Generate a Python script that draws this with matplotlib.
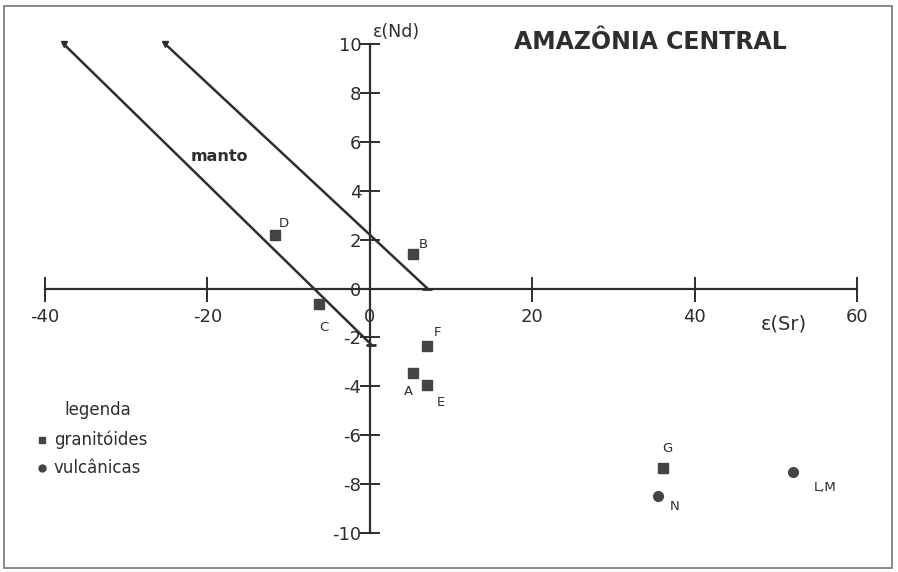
import matplotlib
matplotlib.use("Agg")
import matplotlib.pyplot as plt
from matplotlib.patches import Rectangle

# Data
gran_labels = ["D", "B", "C", "F", "A", "E", "G"]
gran_sr = [-11.7, 5.3, -6.2, 7.1, 5.3, 7.1, 36.1]
gran_nd = [2.2, 1.4, -0.65, -2.35, -3.45, -3.95, -7.35]
vulc_labels = ["N", "L,M"]
vulc_sr = [35.5, 52.1]
vulc_nd = [-8.5, -7.5]
mantle_left_sr = [-37.7, 0.2]
mantle_left_nd = [10.0, -2.3]
mantle_right_sr = [-25.2, 7.1]
mantle_right_nd = [10.0, 0.0]
xticks = [-40, -20, 0, 20, 40, 60]
yticks = [-10, -8, -6, -4, -2, 0, 2, 4, 6, 8, 10]

ink = "#2e2e2e"
fnt = "DejaVu Sans"
fig = plt.figure(figsize=(8.98, 5.72), dpi=100)
ax = fig.add_axes([45/898, 39/572, 812/898, 489/572])
ax.set_xlim(-40, 60)
ax.set_ylim(-10, 10)

for s in ["top", "right"]:
    ax.spines[s].set_visible(False)
ax.spines["left"].set_position(("data", 0))
ax.spines["bottom"].set_position(("data", 0))
for s in ["left", "bottom"]:
    ax.spines[s].set_color(ink)
    ax.spines[s].set_linewidth(1.6)

ax.set_xticks(xticks)
ax.set_xticklabels([str(v) for v in xticks])
ax.set_yticks(yticks)
ax.set_yticklabels([str(v) for v in yticks])
ax.tick_params(axis="x", direction="inout", length=18, width=1.4, color=ink,
               labelsize=13, labelcolor=ink, pad=5)
ax.tick_params(axis="y", direction="inout", length=14, width=1.4, color=ink,
               labelsize=13, labelcolor=ink, pad=-1)
for lab in ax.get_xticklabels() + ax.get_yticklabels():
    lab.set_fontfamily(fnt)

# mantle lines
for xs, ys in [(mantle_left_sr, mantle_left_nd), (mantle_right_sr, mantle_right_nd)]:
    ax.plot(xs, ys, color=ink, lw=1.8, clip_on=False, solid_capstyle="round")
    ax.plot(xs[0], ys[0], marker="v", ms=4, color=ink, clip_on=False)
    ax.plot(xs[1], ys[1], marker="_", ms=7, mew=2, color=ink, clip_on=False)

ax.text(-18.5, 5.4, "manto", fontsize=11.5, fontweight="bold", color=ink,
        ha="center", va="center", family=fnt)

# points
ax.plot(gran_sr, gran_nd, ls="none", marker="s", ms=6.5, color="#444444", clip_on=False)
ax.plot(vulc_sr, vulc_nd, ls="none", marker="o", ms=7, color="#444444", clip_on=False)

gran_off = [(1.1, 0.45), (1.3, 0.4), (0.5, -0.95), (1.2, 0.55), (-0.6, -0.75), (1.7, -0.7), (0.5, 0.8)]
for lab, x, y, (dx, dy) in zip(gran_labels, gran_sr, gran_nd, gran_off):
    ax.text(x + dx, y + dy, lab, fontsize=9.5, color=ink, ha="center", va="center",
            family=fnt)
vulc_off = [(2.0, -0.4), (4.0, -0.65)]
for lab, x, y, (dx, dy) in zip(vulc_labels, vulc_sr, vulc_nd, vulc_off):
    ax.text(x + dx, y + dy, lab, fontsize=9.5, color=ink, ha="center", va="center",
            family=fnt)

# axis labels and title
ax.text(0.4, 10.5, "ε(Nd)", fontsize=12.5, color=ink, ha="left", va="center",
        family=fnt)
ax.text(51.0, -1.45, "ε(Sr)", fontsize=14, color=ink, ha="center", va="center",
        family=fnt)
ax.text(34.6, 10.1, "AMAZÔNIA CENTRAL", fontsize=17, fontweight="bold", color=ink,
        ha="center", va="center", family=fnt)

# legend
fig.text(98/898, 1 - 410/572, "legenda", fontsize=12, color=ink, ha="center", va="center",
         family=fnt)
fig.lines.append(plt.Line2D([42/898], [1 - 440/572], marker="s", ms=5, color="#444444",
                            ls="none", transform=fig.transFigure))
fig.text(54/898, 1 - 440/572, "granitóides", fontsize=12, color=ink, ha="left", va="center",
         family=fnt)
fig.lines.append(plt.Line2D([42/898], [1 - 468/572], marker="o", ms=5, color="#444444",
                            ls="none", transform=fig.transFigure))
fig.text(54/898, 1 - 468/572, "vulcânicas", fontsize=12, color=ink, ha="left", va="center",
         family=fnt)

# frame
fig.patches.append(Rectangle((4/898, 4/572), 888/898, 562/572, transform=fig.transFigure,
                             fill=False, edgecolor="#777777", lw=1.2))

fig.savefig("out.png", dpi=100)
